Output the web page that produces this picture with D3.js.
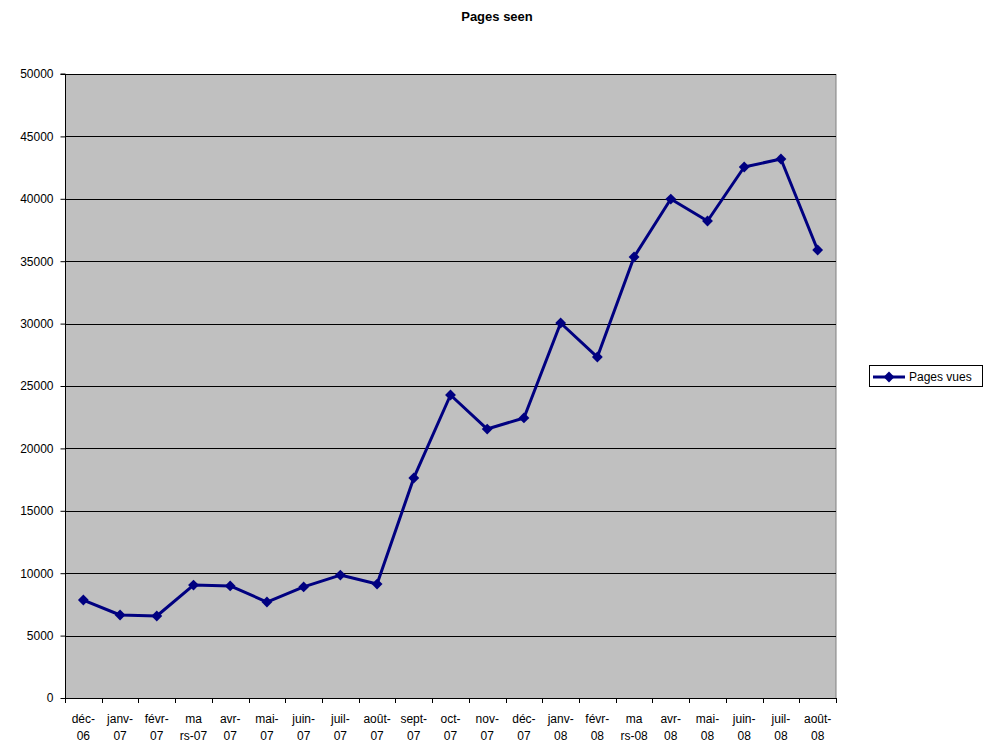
<!DOCTYPE html>
<html><head><meta charset="utf-8">
<script src="https://cdn.jsdelivr.net/npm/d3@7"></script>
<style>body{margin:0;background:#fff;}svg{display:block;font-family:"Liberation Sans",Arial,sans-serif;}</style>
</head><body>
<svg id="c" width="992" height="744"></svg>
<script>
const categories = [["déc-","06"],["janv-","07"],["févr-","07"],["ma","rs-07"],["avr-","07"],["mai-","07"],["juin-","07"],["juil-","07"],["août-","07"],["sept-","07"],["oct-","07"],["nov-","07"],["déc-","07"],["janv-","08"],["févr-","08"],["ma","rs-08"],["avr-","08"],["mai-","08"],["juin-","08"],["juil-","08"],["août-","08"]];
const pagesVues = [7850,6650,6570,9050,8980,7690,8900,9850,9130,17630,24280,21550,22440,30050,27320,35340,39980,38220,42550,43190,35900];
const yTicks = [0,5000,10000,15000,20000,25000,30000,35000,40000,45000,50000];
const title = "Pages seen";
const seriesName = "Pages vues";

const svg = d3.select("#c");
const L = 65, R = 836, T = 74, B = 698;
const x = d3.scaleBand().domain(d3.range(categories.length)).range([L, R]).paddingInner(0).paddingOuter(0);
const y = d3.scaleLinear().domain([0, 50000]).range([B, T]);

svg.append("rect").attr("x", L).attr("y", T).attr("width", R - L).attr("height", B - T).attr("fill", "#C0C0C0");
svg.append("line").attr("x1", R).attr("x2", R).attr("y1", T).attr("y2", B).attr("stroke", "#808080");

// grid
svg.append("g").selectAll("line").data(yTicks.filter(d => d > 0)).join("line")
  .attr("x1", L).attr("x2", R).attr("y1", d => Math.round(y(d)) + 0.5).attr("y2", d => Math.round(y(d)) + 0.5)
  .attr("stroke", "#000").attr("stroke-width", 1);

// y axis
const ya = svg.append("g").attr("transform", `translate(${L + 0.5},0)`)
  .call(d3.axisLeft(y).tickValues(yTicks).tickSize(5).tickPadding(7).tickFormat(d3.format("d")));
ya.select(".domain").attr("stroke", "#000").attr("d", `M-5,${T}H0V${B}`);
ya.selectAll("text").attr("font-size", 12).attr("fill", "#000").attr("font-family", "Liberation Sans, Arial, sans-serif");
ya.selectAll(".tick line").attr("stroke", "#000");

// x axis with ticks at band edges
const edges = d3.range(categories.length + 1).map(i => L + i * x.step());
svg.append("line").attr("x1", L).attr("x2", R).attr("y1", B + 0.5).attr("y2", B + 0.5).attr("stroke", "#000");
svg.append("g").selectAll("line").data(edges).join("line")
  .attr("x1", d => Math.round(d) + 0.5).attr("x2", d => Math.round(d) + 0.5)
  .attr("y1", B).attr("y2", B + 5).attr("stroke", "#000");
const xl = svg.append("g").selectAll("text").data(categories).join("text")
  .attr("text-anchor", "middle").attr("font-size", 12).attr("fill", "#000")
  .attr("x", (d, i) => x(i) + x.bandwidth() / 2).attr("y", 723);
xl.append("tspan").attr("x", (d, i) => x(i) + x.bandwidth() / 2).text(d => d[0]);
xl.append("tspan").attr("x", (d, i) => x(i) + x.bandwidth() / 2).attr("dy", 17).text(d => d[1]);

// line
const px = i => x(i) + x.bandwidth() / 2;
svg.append("path").datum(pagesVues)
  .attr("d", d3.line().x((d, i) => px(i)).y(d => y(d)))
  .attr("fill", "none").attr("stroke", "#000080").attr("stroke-width", 3).attr("stroke-linejoin", "round");
const diamond = d3.symbol().type(d3.symbolDiamond2).size(75);
svg.append("g").selectAll("path").data(pagesVues).join("path")
  .attr("d", diamond).attr("transform", (d, i) => `translate(${px(i)},${y(d)})`)
  .attr("fill", "#000080");

// title
svg.append("text").attr("x", 497).attr("y", 21).attr("text-anchor", "middle")
  .attr("font-size", 13).attr("font-weight", "bold").text(title);

// legend
const lg = svg.append("g");
lg.append("rect").attr("x", 869.5).attr("y", 365.5).attr("width", 113).attr("height", 21).attr("fill", "#fff").attr("stroke", "#000");
lg.append("line").attr("x1", 873).attr("x2", 905).attr("y1", 377).attr("y2", 377).attr("stroke", "#000080").attr("stroke-width", 3);
lg.append("path").attr("d", diamond).attr("transform", "translate(889,377)").attr("fill", "#000080");
lg.append("text").attr("x", 909).attr("y", 381).attr("font-size", 12).text(seriesName);
</script>
</body></html>
